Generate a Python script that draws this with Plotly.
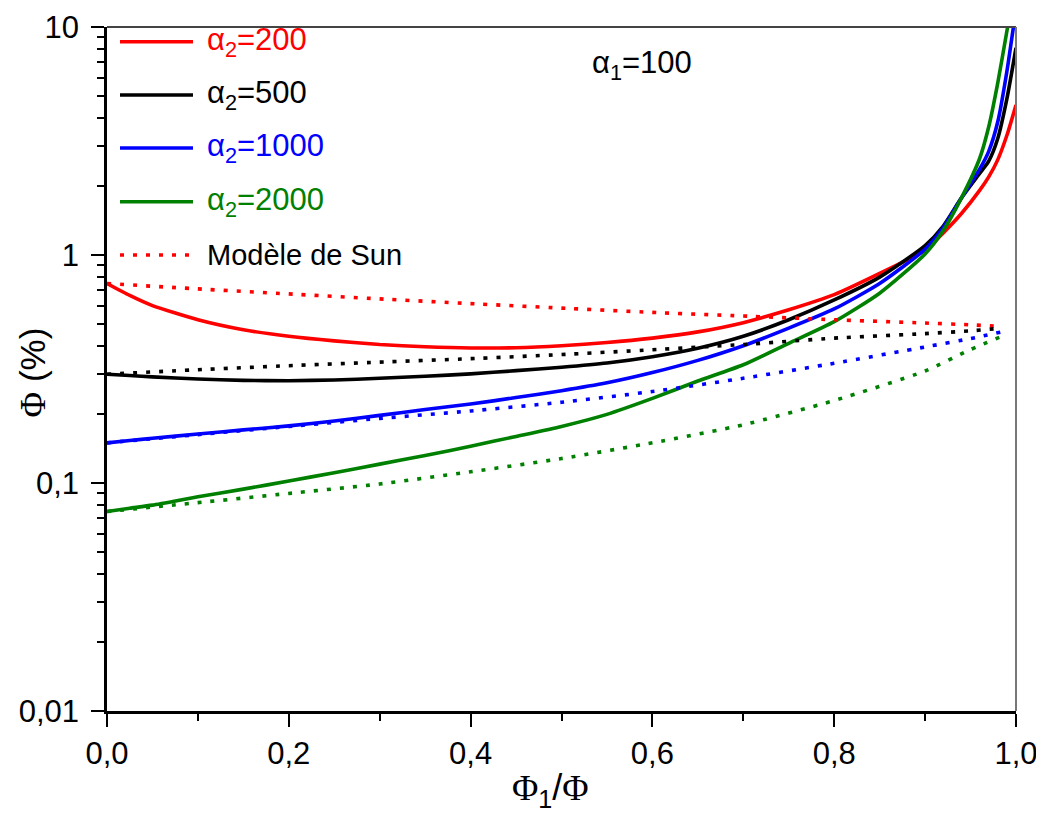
import plotly.graph_objects as go

# ---------------- data ----------------
x_solid = [0.0, 0.025, 0.05, 0.1, 0.15, 0.2, 0.25, 0.3, 0.35, 0.4, 0.45, 0.5, 0.55, 0.6,
           0.65, 0.7, 0.75, 0.8, 0.85, 0.9, 0.92, 0.94, 0.96, 0.97, 0.98, 0.99, 1.0]

a200 = [0.75, 0.665, 0.60, 0.52, 0.47, 0.44, 0.42, 0.405, 0.396, 0.391, 0.392, 0.40, 0.413,
        0.432, 0.46, 0.505, 0.575, 0.67, 0.83, 1.05, 1.25, 1.52, 1.92, 2.20, 2.62, 3.35, 4.55]
a500 = [0.30, 0.296, 0.292, 0.286, 0.282, 0.281, 0.283, 0.288, 0.294, 0.301, 0.311, 0.322, 0.336,
        0.358, 0.39, 0.44, 0.52, 0.635, 0.80, 1.10, 1.34, 1.78, 2.28, 2.58, 3.25, 4.85, 8.1]
a1000 = [0.15, 0.1535, 0.157, 0.164, 0.171, 0.178, 0.187, 0.198, 0.210, 0.222, 0.237, 0.254, 0.275,
         0.305, 0.345, 0.40, 0.478, 0.58, 0.75, 1.06, 1.32, 1.78, 2.38, 2.85, 3.85, 6.4, 12.0]
a2000 = [0.075, 0.0775, 0.080, 0.087, 0.094, 0.102, 0.111, 0.121, 0.132, 0.145, 0.160, 0.177, 0.200,
         0.235, 0.28, 0.33, 0.41, 0.51, 0.68, 1.01, 1.28, 1.78, 2.65, 3.65, 5.7, 9.6, 16.0]

x_sun = [0.0, 0.1, 0.2, 0.3, 0.4, 0.5, 0.6, 0.7, 0.8, 0.9, 0.95, 0.985]
sun200 = [0.75, 0.71, 0.675, 0.642, 0.612, 0.585, 0.56, 0.54, 0.52, 0.503, 0.494, 0.485]
sun500 = [0.30, 0.314, 0.327, 0.339, 0.351, 0.366, 0.384, 0.405, 0.432, 0.452, 0.465, 0.478]
sun1000 = [0.15, 0.163, 0.177, 0.192, 0.207, 0.226, 0.252, 0.288, 0.335, 0.395, 0.43, 0.461]
sun2000 = [0.075, 0.082, 0.090, 0.099, 0.112, 0.128, 0.150, 0.180, 0.230, 0.310, 0.385, 0.441]

series_names = ["α<sub>2</sub>=200", "α<sub>2</sub>=500", "α<sub>2</sub>=1000", "α<sub>2</sub>=2000"]
colors = ["#FF0000", "#000000", "#0000FF", "#008000"]
solid_sets = [a200, a500, a1000, a2000]
sun_sets = [sun200, sun500, sun1000, sun2000]
sun_label = "Modèle de Sun"
alpha1_label = "α<sub>1</sub>=100"

x_ticks = [0.0, 0.2, 0.4, 0.6, 0.8, 1.0]
x_minor = [0.1, 0.3, 0.5, 0.7, 0.9]
y_ticks = [0.01, 0.1, 1, 10]
y_ticktext = ["0,01", "0,1", "1", "10"]
y_minor = [m * d for d in (0.01, 0.1, 1) for m in range(2, 10)]

FONT = "Liberation Sans, Arial, sans-serif"
SERIF = "Liberation Serif, Times New Roman, serif"
DOT = "4px,9px"
LW = 3.6

fig = go.Figure()
for name, col, ys in zip(series_names, colors, solid_sets):
    fig.add_trace(go.Scatter(x=x_solid, y=ys, mode="lines", name=name,
                             line=dict(color=col, width=LW, shape="spline", smoothing=0.6),
                             showlegend=False))
for name, col, ys in zip(series_names, colors, sun_sets):
    fig.add_trace(go.Scatter(x=x_sun, y=ys, mode="lines", name=sun_label,
                             line=dict(color=col, width=LW, dash=DOT, shape="spline", smoothing=0.6),
                             showlegend=False))

# ---------------- custom legend (paper coordinates) ----------------
leg_y = [0.9785, 0.9006, 0.8231, 0.7446, 0.6667]
leg_x0, leg_x1, leg_tx = 0.0143, 0.0946, 0.1078
shapes = []
annotations = []
for i, (name, col) in enumerate(zip(series_names, colors)):
    shapes.append(dict(type="line", xref="paper", yref="paper", x0=leg_x0, x1=leg_x1,
                       y0=leg_y[i], y1=leg_y[i], line=dict(color=col, width=LW)))
    annotations.append(dict(text=name, xref="paper", yref="paper", x=leg_tx, y=leg_y[i],
                            xanchor="left", yanchor="middle", showarrow=False,
                            font=dict(family=FONT, size=31, color=col)))
shapes.append(dict(type="line", xref="paper", yref="paper", x0=leg_x0, x1=leg_x1,
                   y0=leg_y[4], y1=leg_y[4], line=dict(color=colors[0], width=LW, dash=DOT)))
annotations.append(dict(text=sun_label, xref="paper", yref="paper", x=leg_tx, y=leg_y[4],
                        xanchor="left", yanchor="middle", showarrow=False,
                        font=dict(family=FONT, size=29, color="#000000")))

# alpha1 label
annotations.append(dict(text=alpha1_label, xref="paper", yref="paper", x=0.589, y=0.945,
                        xanchor="center", yanchor="middle", showarrow=False,
                        font=dict(family=FONT, size=31, color="#000000")))

# axis titles
annotations.append(dict(text=f'<span style="font-family:{SERIF}">Φ</span><sub>1</sub>/<span style="font-family:{SERIF}">Φ</span>',
                        xref="paper", yref="paper", x=0.488, y=-0.115,
                        xanchor="center", yanchor="middle", showarrow=False,
                        font=dict(family=FONT, size=36, color="#000000")))
annotations.append(dict(text=f'<span style="font-family:{SERIF}">Φ</span> (%)',
                        xref="paper", yref="paper", x=-0.081, y=0.4956, textangle=-90,
                        xanchor="center", yanchor="middle", showarrow=False,
                        font=dict(family=FONT, size=35, color="#000000")))

# top / right frame
shapes.append(dict(type="line", xref="paper", yref="paper", x0=0, x1=1, y0=1, y1=1,
                   line=dict(color="#444444", width=2)))
shapes.append(dict(type="line", xref="paper", yref="paper", x0=1, x1=1, y0=0, y1=1,
                   line=dict(color="#777777", width=2)))

fig.update_layout(
    width=1036, height=806,
    margin=dict(l=99, r=28, t=19, b=103, autoexpand=False),
    paper_bgcolor="white", plot_bgcolor="white",
    separators=", ",
    font=dict(family=FONT, size=30, color="#000000"),
    shapes=shapes, annotations=annotations,
    showlegend=False,
)
fig.update_xaxes(
    range=[0, 1], tickvals=x_ticks, tickformat=".1f", automargin=False,
    ticklabeloverflow="allow",
    ticks="outside", ticklen=13, tickwidth=2, tickcolor="black",
    minor=dict(tickvals=x_minor, ticks="outside", ticklen=7, tickwidth=2, tickcolor="black"),
    showline=True, linecolor="black", linewidth=2.5,
    showgrid=False, zeroline=False,
    tickfont=dict(family=FONT, size=31, color="black"),
)
fig.update_yaxes(
    type="log", range=[-2, 1], tickvals=y_ticks, ticktext=y_ticktext, automargin=False,
    ticklabeloverflow="allow",
    ticks="outside", ticklen=13, tickwidth=2, tickcolor="black",
    minor=dict(tickvals=y_minor, ticks="outside", ticklen=7, tickwidth=2, tickcolor="black"),
    showline=True, linecolor="black", linewidth=2.5,
    showgrid=False, zeroline=False,
    tickfont=dict(family=FONT, size=31, color="black"),
    ticklabelstandoff=6,
)

fig.write_html("out.html")
